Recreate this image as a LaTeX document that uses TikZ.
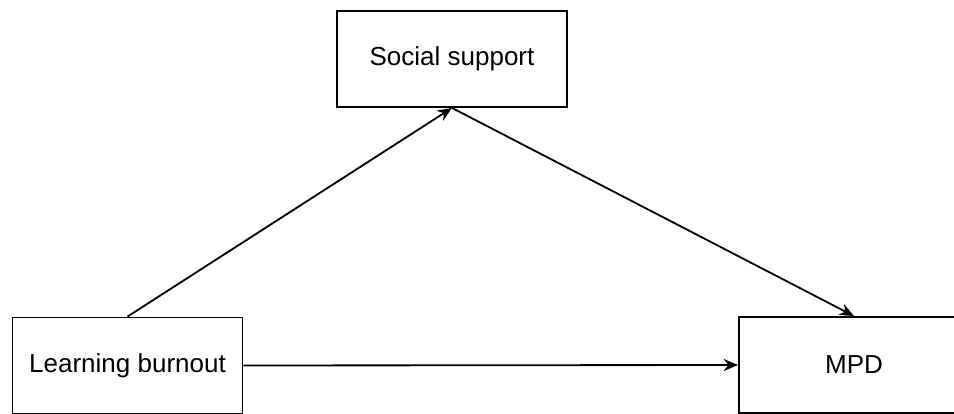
\documentclass[tikz,border=0pt]{standalone}
\usepackage{fontspec}
\setmainfont{Liberation Sans}
\usetikzlibrary{arrows.meta}

\begin{document}
\begin{tikzpicture}[x=0.025cm,y=-0.025cm,
    varbox/.style={draw,line width=1.3pt,minimum width=5.75cm,minimum height=2.4cm,
      inner sep=0pt,font=\fontsize{18.5}{22}\selectfont},
    path/.style={line width=1.3pt,-{Stealth[length=0.36cm,width=0.3cm]}}]
    \useasboundingbox (0,0) rectangle (954,414); % Fixes the page size...
    \clip (0,0) rectangle (954,414);
    \node[varbox] (Social)  at (452,59)  {Social support};
    \node[varbox] (Burnout) at (127.5,365.5) {Learning burnout};
    \node[varbox] (MPD)     at (854,365) {MPD};
    % the three paths of the model
    \draw[path] (Burnout.north) -- (Social.south);
    \draw[path] (Social.south) -- (MPD.north);
    \draw[path] (Burnout.east) -- (MPD.west);
  \end{tikzpicture}
\end{document}
